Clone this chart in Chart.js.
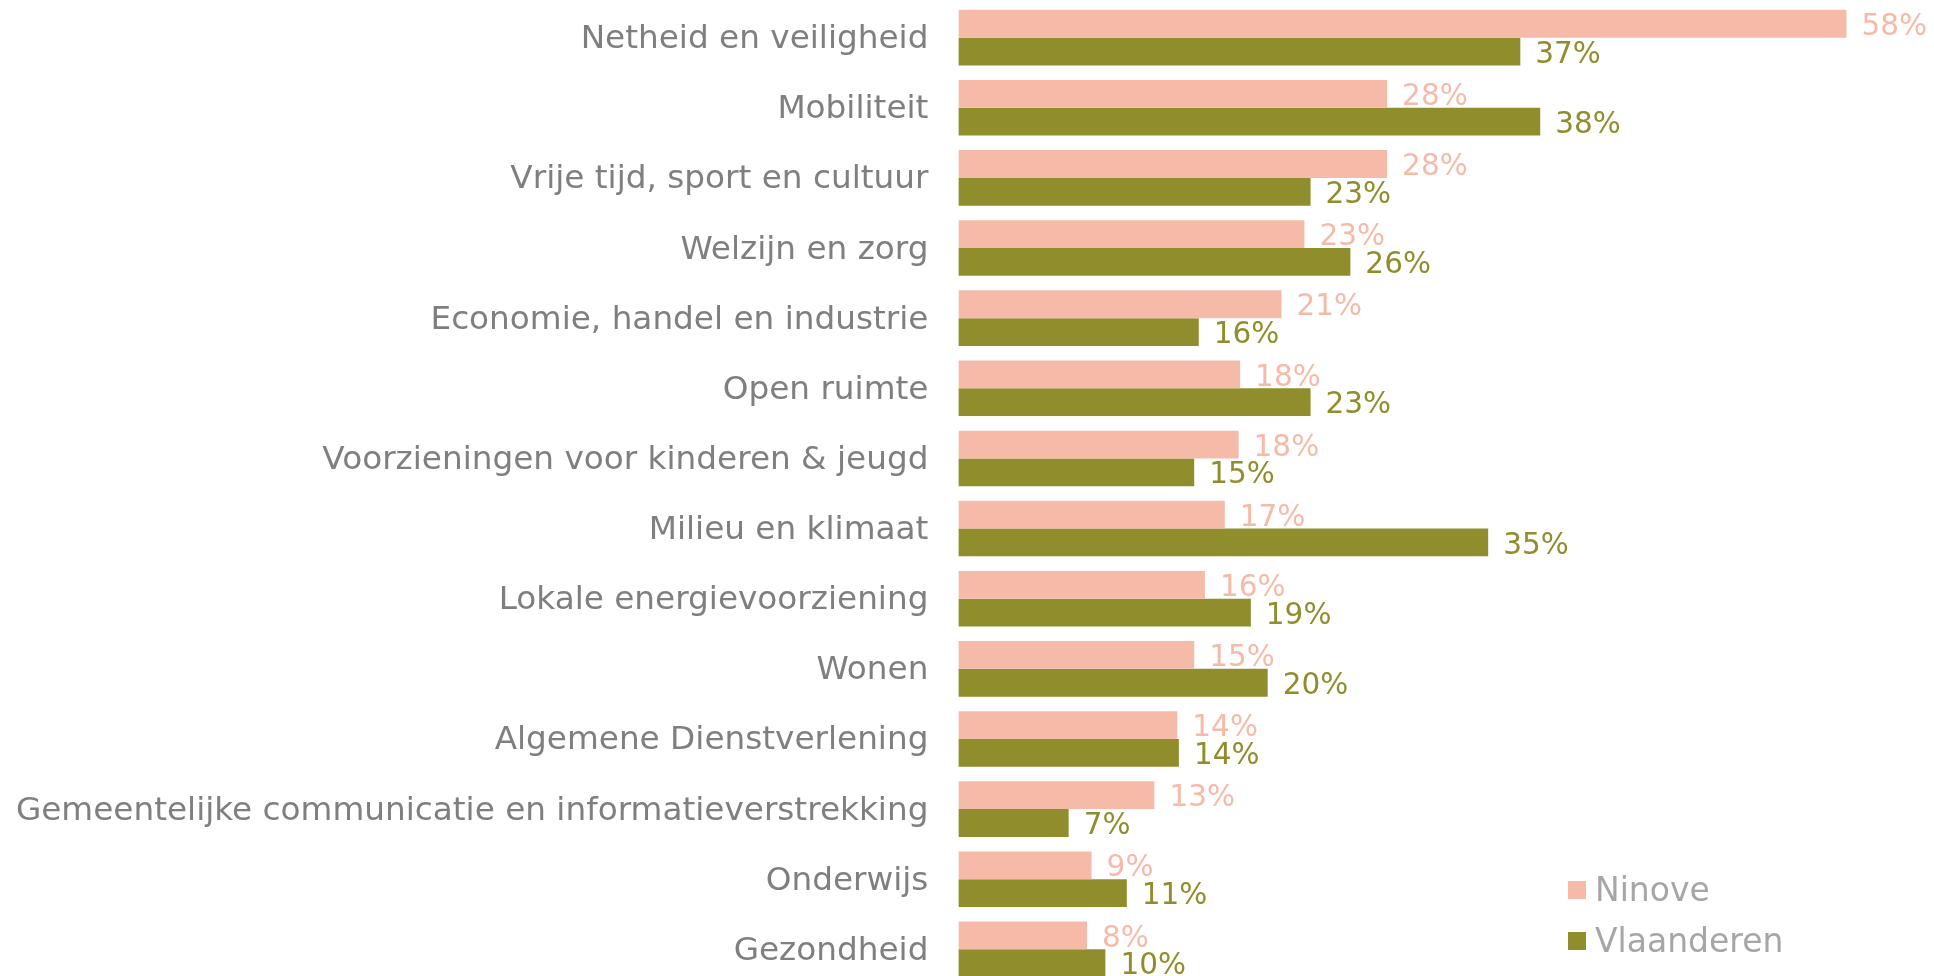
<!DOCTYPE html>
<html>
<head>
<meta charset="utf-8">
<script src="https://cdn.jsdelivr.net/npm/chart.js@4"></script>
<style>
  html, body { margin: 0; padding: 0; background: #ffffff; overflow: hidden; }
  #wrap { position: relative; width: 1934px; height: 988px; }
</style>
</head>
<body>
<div id="wrap"><canvas id="c"></canvas></div>
<script>
const categories = [
  "Netheid en veiligheid",
  "Mobiliteit",
  "Vrije tijd, sport en cultuur",
  "Welzijn en zorg",
  "Economie, handel en industrie",
  "Open ruimte",
  "Voorzieningen voor kinderen & jeugd",
  "Milieu en klimaat",
  "Lokale energievoorziening",
  "Wonen",
  "Algemene Dienstverlening",
  "Gemeentelijke communicatie en informatieverstrekking",
  "Onderwijs",
  "Gezondheid"
];
const seriesNames = ["Ninove", "Vlaanderen"];
const ninove     = [58, 28, 28, 22.6, 21.1, 18.4, 18.3, 17.4, 16.1, 15.4, 14.3, 12.8, 8.7, 8.4];
const vlaanderen = [36.7, 38, 23, 25.6, 15.7, 23, 15.4, 34.6, 19.1, 20.2, 14.4, 7.2, 11, 9.6];
const seriesColors = ["#F6BBA8", "#908E2C"];

const FONT = "'DejaVu Sans', sans-serif";

const valueLabels = {
  id: 'valueLabels',
  afterDatasetsDraw(chart) {
    const ctx = chart.ctx;
    ctx.save();
    ctx.font = "29.5px " + FONT;
    ctx.textAlign = 'left';
    ctx.textBaseline = 'middle';
    chart.data.datasets.forEach((ds, di) => {
      const meta = chart.getDatasetMeta(di);
      meta.data.forEach((bar, i) => {
        ctx.fillStyle = ds.backgroundColor;
        ctx.fillText(Math.round(ds.data[i]) + '%', bar.x + 15, bar.y + 3.5);
      });
    });
    ctx.restore();
  }
};

const customLegend = {
  id: 'customLegend',
  afterDraw(chart) {
    const ctx = chart.ctx;
    ctx.save();
    ctx.font = "33px " + FONT;
    ctx.textAlign = 'left';
    ctx.textBaseline = 'alphabetic';
    chart.data.datasets.forEach((ds, di) => {
      const y = 881 + di * 51;
      ctx.fillStyle = ds.backgroundColor;
      ctx.fillRect(1568, y, 18, 18);
      ctx.fillStyle = '#A6A6A6';
      ctx.fillText(ds.label, 1595, y + 20);
    });
    ctx.restore();
  }
};

new Chart(document.getElementById('c'), {
  type: 'bar',
  data: {
    labels: categories,
    datasets: [
      { label: seriesNames[0], data: ninove, backgroundColor: seriesColors[0], borderWidth: 0 },
      { label: seriesNames[1], data: vlaanderen, backgroundColor: seriesColors[1], borderWidth: 0 }
    ]
  },
  options: {
    indexAxis: 'y',
    responsive: true,
    maintainAspectRatio: false,
    animation: false,
    datasets: { bar: { categoryPercentage: 0.793, barPercentage: 1.0 } },
    layout: { padding: { top: 2.6, bottom: 3.6, left: 0, right: 11 } },
    plugins: {
      legend: { display: false },
      tooltip: { enabled: false }
    },
    scales: {
      x: { display: false, min: 0, max: 63 },
      y: {
        afterFit(scale) {
          scale.width = 958.4;
          scale.paddingTop = 0;
          scale.paddingBottom = 0;
        },
        grid: { display: false, drawTicks: false },
        border: { display: false },
        ticks: {
          color: '#7F7F7F',
          font: { family: FONT, size: 32.7 },
          padding: 30,
          labelOffset: 2,
          autoSkip: false
        }
      }
    }
  },
  plugins: [valueLabels, customLegend]
});
</script>
</body>
</html>
